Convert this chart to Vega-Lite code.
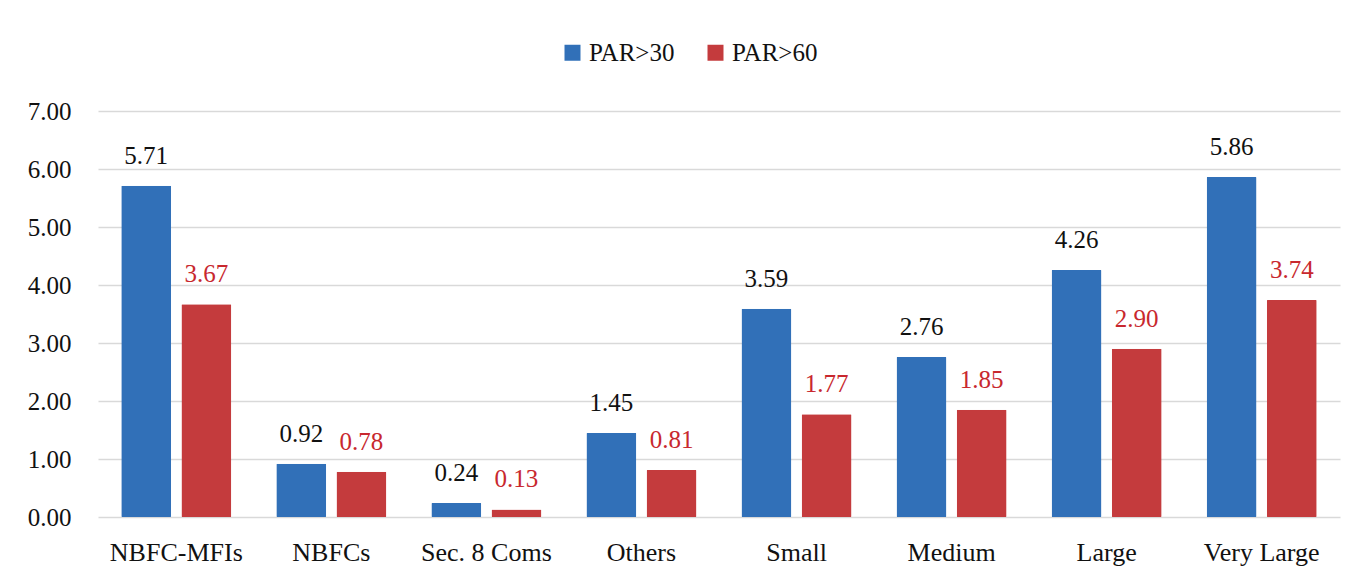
{
  "$schema": "https://vega.github.io/schema/vega-lite/v6.json",
  "autosize": {"type": "none"},
  "width": 1242,
  "height": 406,
  "padding": {"left": 98, "top": 111, "right": 18, "bottom": 65},
  "background": "white",
  "config": {
    "font": "Liberation Serif",
    "view": {"stroke": null},
    "axis": {"labelFont": "Liberation Serif", "labelColor": "#111"},
    "legend": {"labelFont": "Liberation Serif"}
  },
  "data": {
    "values": [
      {"category": "NBFC-MFIs", "series": "PAR>30", "value": 5.71},
      {"category": "NBFC-MFIs", "series": "PAR>60", "value": 3.67},
      {"category": "NBFCs", "series": "PAR>30", "value": 0.92},
      {"category": "NBFCs", "series": "PAR>60", "value": 0.78},
      {"category": "Sec. 8 Coms", "series": "PAR>30", "value": 0.24},
      {"category": "Sec. 8 Coms", "series": "PAR>60", "value": 0.13},
      {"category": "Others", "series": "PAR>30", "value": 1.45},
      {"category": "Others", "series": "PAR>60", "value": 0.81},
      {"category": "Small", "series": "PAR>30", "value": 3.59},
      {"category": "Small", "series": "PAR>60", "value": 1.77},
      {"category": "Medium", "series": "PAR>30", "value": 2.76},
      {"category": "Medium", "series": "PAR>60", "value": 1.85},
      {"category": "Large", "series": "PAR>30", "value": 4.26},
      {"category": "Large", "series": "PAR>60", "value": 2.90},
      {"category": "Very Large", "series": "PAR>30", "value": 5.86},
      {"category": "Very Large", "series": "PAR>60", "value": 3.74}
    ]
  },
  "encoding": {
    "x": {
      "field": "category",
      "type": "nominal",
      "sort": null,
      "scale": {"paddingInner": 0.29, "paddingOuter": 0.15},
      "axis": {
        "title": null,
        "labelAngle": 0,
        "labelFontSize": 26,
        "labelPadding": 22,
        "ticks": false,
        "domain": false
      }
    },
    "xOffset": {
      "field": "series",
      "type": "nominal",
      "scale": {"paddingInner": 0.17, "paddingOuter": 0}
    },
    "y": {
      "field": "value",
      "type": "quantitative",
      "scale": {"domain": [0, 7], "nice": false},
      "axis": {
        "title": null,
        "values": [0, 1, 2, 3, 4, 5, 6, 7],
        "format": ".2f",
        "labelFontSize": 25,
        "labelPadding": 27,
        "ticks": false,
        "domain": false,
        "gridColor": "#d9d9d9",
        "gridWidth": 1.5
      }
    }
  },
  "layer": [
    {
      "mark": {"type": "bar", "cornerRadius": 1},
      "encoding": {
        "color": {
          "field": "series",
          "type": "nominal",
          "scale": {"domain": ["PAR>30", "PAR>60"], "range": ["#3170b8", "#c43b3d"]},
          "legend": {
            "title": null,
            "orient": "none",
            "direction": "horizontal",
            "legendX": 462,
            "legendY": -71,
            "symbolType": "square",
            "symbolSize": 256,
            "symbolStrokeWidth": 0,
            "labelFontSize": 25,
            "labelColor": "#111",
            "labelOffset": 4,
            "columnPadding": 28
          }
        }
      }
    },
    {
      "mark": {"type": "text", "baseline": "alphabetic", "dy": -22, "fontSize": 25, "font": "Liberation Serif"},
      "encoding": {
        "text": {"field": "value", "type": "quantitative", "format": ".2f"},
        "color": {
          "condition": {"test": "datum.series === 'PAR>60'", "value": "#c8282e"},
          "value": "#111111"
        }
      }
    }
  ]
}
